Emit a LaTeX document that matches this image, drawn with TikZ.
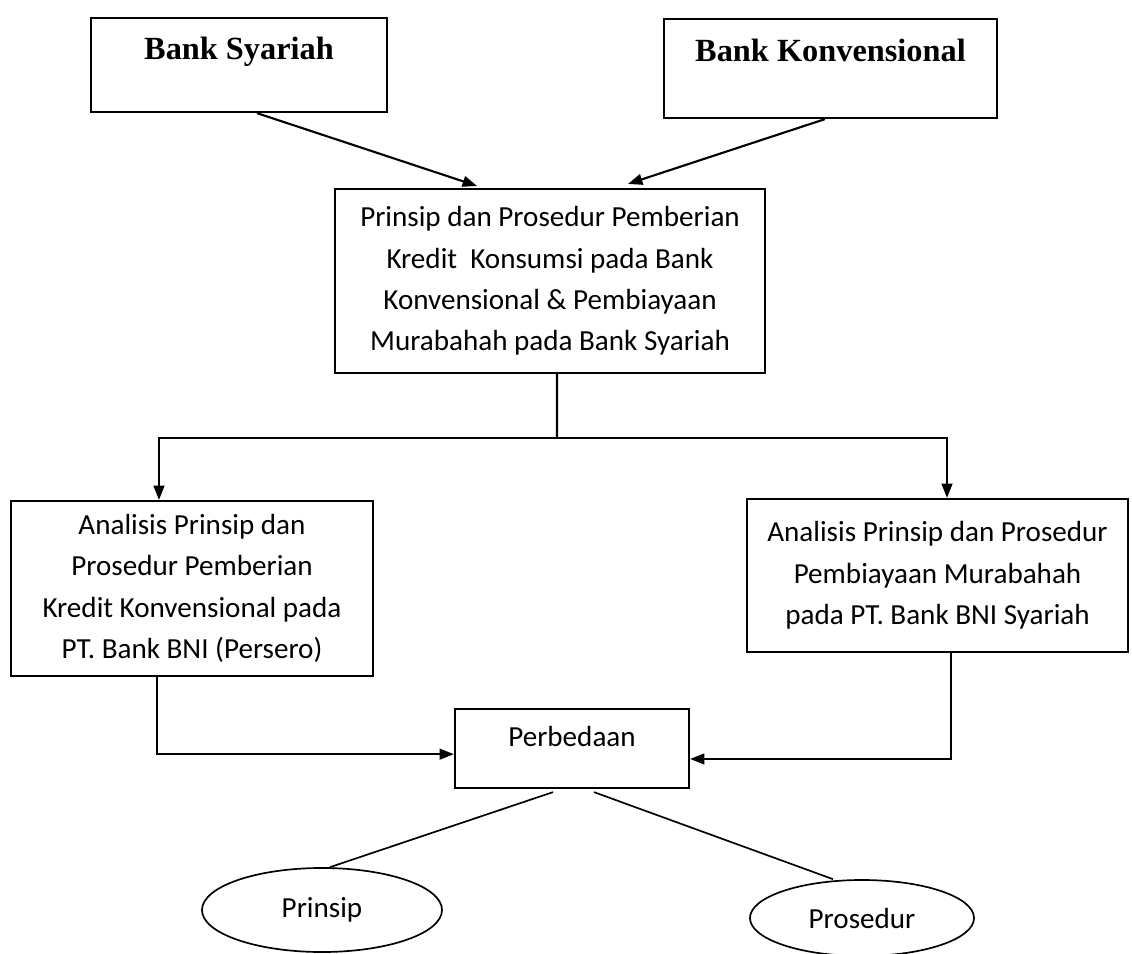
\documentclass[tikz,border=0pt]{standalone}
\usepackage{fontspec}
\setmainfont{Carlito}
\newfontfamily\bankfont{Liberation Serif}
\usetikzlibrary{arrows.meta}
\usetikzlibrary{shapes.geometric}
\tikzset{
    box/.style={
        draw,
        rectangle,
        line width=1.5pt,
        inner sep=0pt,
        align=center,
        font=\fontsize{20.7}{29.5}\selectfont
    },
    bankbox/.style={
        box,
        font=\bankfont\bfseries\fontsize{23}{27}\selectfont
    },
    oval/.style={
        draw,
        ellipse,
        line width=1.2pt,
        inner sep=0pt,
        font=\fontsize{20.7}{25}\selectfont
    },
    link/.style={
        draw,
        line width=1.5pt
    },
    arrow/.style={
        link,
        -{Triangle[length=3.6mm, width=2.7mm]}
    }
}

\begin{document}
\begin{tikzpicture}[x=0.025cm, y=-0.025cm]
    \useasboundingbox (0,0) rectangle (1132,954);

    % Banks
    \node[bankbox, anchor=north, minimum width=7.4cm, text height=1.025cm, text depth=1.325cm] (syariah) at (239,17) {Bank Syariah};
    \node[bankbox, anchor=north, minimum width=8.325cm, text height=1.05cm, text depth=1.425cm] (konven) at (830.5,18) {Bank Konvensional};

    % Main topic
    \node[box, minimum width=10.75cm, minimum height=4.6cm] (main) at (550,281)
        {Prinsip dan Prosedur Pemberian\\Kredit\ \ Konsumsi pada Bank\\Konvensional \& Pembiayaan\\Murabahah pada Bank Syariah};

    % Analyses
    \node[box, minimum width=9.05cm, minimum height=4.375cm] (kredit) at (192,588.5)
        {Analisis Prinsip dan\\Prosedur Pemberian\\Kredit Konvensional pada\\PT. Bank BNI (Persero)};
    \node[box, minimum width=9.525cm, minimum height=3.825cm] (murabahah) at (937.5,575.5)
        {Analisis Prinsip dan Prosedur\\Pembiayaan Murabahah\\pada PT. Bank BNI Syariah};

    % Result
    \node[box, anchor=north, minimum width=5.85cm, text height=0.925cm, text depth=1.05cm] (beda) at (572,708) {Perbedaan};
    \node[oval, minimum width=6cm, minimum height=2.1cm] (prinsip) at (322,910) {Prinsip};
    \node[oval, minimum width=5.6cm, minimum height=1.9cm] (prosedur) at (862,918) {Prosedur};

    % Connectors
    \draw[arrow] ([xshift=0.45cm]syariah.south) -- ([xshift=-1.825cm, yshift=0.05cm]main.north);
    \draw[arrow] ([xshift=-0.14cm]konven.south) -- ([xshift=1.95cm, yshift=0.1cm]main.north);

    \coordinate (fork) at (557,438);
    \draw[link] ([xshift=0.175cm]main.south) -- (fork);
    \draw[arrow] (fork) -| ([xshift=-0.825cm]kredit.north);
    \draw[arrow] (fork) -| ([xshift=0.2375cm]murabahah.north);

    \draw[arrow] ([xshift=-0.875cm]kredit.south) |- ([yshift=-0.14cm]beda.west);
    \draw[arrow] ([xshift=0.34cm]murabahah.south) |- ([yshift=-0.26cm]beda.east);

    \draw[line width=1.2pt] ([xshift=-0.475cm, yshift=-0.075cm]beda.south) -- ([xshift=0.2cm]prinsip.north);
    \draw[line width=1.2pt] ([xshift=0.55cm, yshift=-0.075cm]beda.south) -- ([xshift=-0.725cm]prosedur.north);
\end{tikzpicture}
\end{document}
